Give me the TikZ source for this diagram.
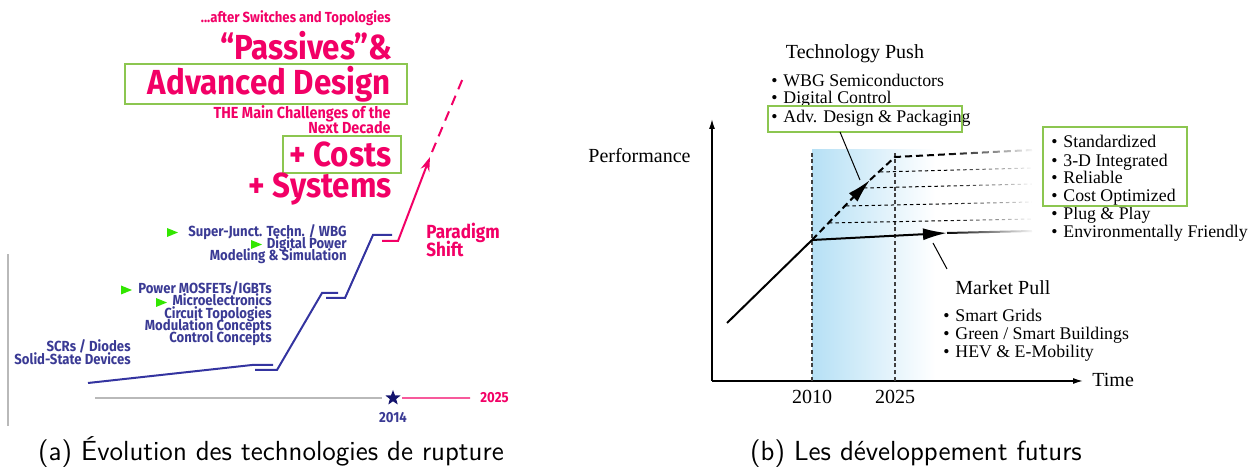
\documentclass[tikz,border=0pt]{standalone}
\usepackage{fontspec}
\usepackage{tikz}
\usetikzlibrary{arrows.meta,shapes.geometric,fadings}
\newfontfamily\leftsans[FakeStretch=0.9]{Fira Sans}
\newfontfamily\plotserif{Liberation Serif}
\definecolor{hotpink}{RGB}{242,0,102}
\definecolor{navytext}{RGB}{58,58,148}
\definecolor{stairblue}{RGB}{52,52,160}
\definecolor{starnavy}{RGB}{20,20,110}
\definecolor{lime}{RGB}{50,230,0}
\definecolor{boxgreen}{RGB}{140,198,80}
\definecolor{skyshade}{RGB}{182,224,245}
\tikzfading[name=fadeout, left color=transparent!100, right color=transparent!0]
\newcommand\bul{\makebox[6pt][l]{\textbullet}}

\begin{document}
\begin{tikzpicture}[x=0.5pt,y=0.5pt,>=Latex,
    bigpink/.style={text=hotpink, font=\leftsans\bfseries\fontsize{17.4}{18}\selectfont, inner sep=0pt, anchor=base east},
    smallpink/.style={text=hotpink, font=\leftsans\bfseries\fontsize{8}{9}\selectfont, inner sep=0pt, anchor=base east},
    tinypink/.style={smallpink, font=\leftsans\bfseries\fontsize{7.3}{8}\selectfont},
    bluetxt/.style={text=navytext, font=\leftsans\bfseries\fontsize{7.3}{8}\selectfont, inner sep=0pt, anchor=base east},
    stair/.style={stairblue, line width=1pt},
    hilite/.style={draw=boxgreen, line width=1.2pt},
    serif/.style={font=\plotserif\fontsize{8.9}{10}\selectfont, inner sep=0pt, anchor=base west},
    bigserif/.style={font=\plotserif\fontsize{10}{12}\selectfont, inner sep=0pt, anchor=base west},
    caption/.style={font=\sffamily\fontsize{13.8}{16}\selectfont, inner sep=0pt, anchor=base}]

    \useasboundingbox (0,0) rectangle (1260,471);

    % (a) headline
    \node[tinypink] (after) at (391,448) {...after Switches and Topologies};
    \node[bigpink] (passives) at (393,411) {“Passives”\&};
    \node[bigpink] (advdesign) at (391,376) {Advanced Design};
    \draw[hilite] (125,367) rectangle (407,407);
    \node[smallpink] (challenge) at (391,352) {THE Main Challenges of the};
    \node[smallpink] (decade) at (391,337) {Next Decade};
    \node[bigpink] (costs) at (392,304) {+ Costs};
    \draw[hilite] (283,298) rectangle (401,335);
    \node[bigpink] (systems) at (392,273) {+ Systems};

    % staircase of breakthroughs
    \draw[stair] (88,88) -- (252,106) -- (273,106);
    \draw[stair] (255,101) -- (277,101) -- (322,178) -- (338,178);
    \draw[stair] (326,173) -- (345,173) -- (373,236) -- (392,236);
    \draw[hotpink, line width=1pt, -{Stealth[length=7pt,width=4.5pt]}] (382,230) -- (398,230) -- (430,314);
    \draw[hotpink, line width=1pt, dash pattern=on 5pt off 3.5pt] (432,319) -- (463,393);

    % labels along the steps
    \foreach \txt/\yy [count=\i] in {{Super-Junct. Techn. / WBG}/234, {Digital Power}/222, {Modeling \& Simulation}/210}
        \node[bluetxt] (top\i) at (347,\yy) {\txt};
    \foreach \txt/\yy [count=\i] in {{Power MOSFETs/IGBTs}/177, {Microelectronics}/165, {Circuit Topologies}/152, {Modulation Concepts}/140, {Control Concepts}/128}
        \node[bluetxt] (mid\i) at (272,\yy) {\txt};
    \foreach \txt/\yy [count=\i] in {{SCRs / Diodes}/119, {Solid-State Devices}/106}
        \node[bluetxt] (low\i) at (131,\yy) {\txt};
    \foreach \x/\y in {167/238.5, 251/226.5, 121/181, 156/168.5}
        \fill[lime] (\x,\y+4.5) -- ++(11,-4.5) -- ++(-11,-4.5) -- cycle;
    \node[smallpink, anchor=base west, font=\leftsans\bfseries\fontsize{9.5}{10}\selectfont] (paradigm) at (426,232) {Paradigm};
    \node[smallpink, anchor=base west, font=\leftsans\bfseries\fontsize{9.5}{10}\selectfont] (shift) at (426,214) {Shift};

    % time axis
    \draw[gray!55, line width=0.6pt] (8,45) -- (8,217);
    \node[star, star points=5, star point ratio=2.4, fill=starnavy, inner sep=0pt, minimum size=8pt] (now) at (393,73) {};
    \node[bluetxt, anchor=base] (y2014) at (393,48) {2014};
    \node[tinypink, anchor=base west] (y2025) at (480,68) {2025};
    \draw[gray!55, line width=0.8pt, shorten >=3pt] (95,73) -- (now);
    \draw[hotpink, line width=0.6pt, shorten <=2pt, shorten >=5pt] (now) -- (y2025);

    % (b) technology push / market pull
    \node[bigserif, anchor=base] (push) at (855,412) {Technology Push};
    \node[serif] (wbg) at (771,384) {\bul WBG Semiconductors};
    \node[serif] (digital) at (771,367) {\bul Digital Control};
    \node[serif] (pkg) at (771,348) {\bul Adv. Design \& Packaging};
    \draw[hilite] (768,339) rectangle (962,365);
    \node[bigserif] (perf) at (588,308) {Performance};

    % axes
    \coordinate (origin) at (712,90);
    \coordinate (ytop) at (712,352);
    \coordinate (xend) at (1083,90);
    \shade[left color=skyshade, right color=white] (812,90) rectangle (935,321);
    \draw[line width=0.7pt, -{Latex[length=5pt,width=3pt]}] (origin) -- (ytop);
    \draw[line width=0.7pt, -{Latex[length=5pt,width=3pt]}] (origin) -- (xend);
    \node[bigserif] (time) at (1092,84) {Time};
    \foreach \x/\yr in {812/2010, 895/2025} {
        \draw[black!75, line width=0.6pt, dash pattern=on 2pt off 1.4pt] (\x,90) -- (\x,321);
        \node[bigserif, anchor=base] (t\yr) at (\x,67) {\yr};
    }

    % growth paths
    \draw[line width=1pt] (727,148) -- (812,231);
    \draw[line width=1pt, -{Latex[length=12pt,width=6pt]}] (812,231) -- (947,238);
    \draw[line width=1pt] (947,238) -- (1032,240);
    \draw[line width=1pt, dash pattern=on 3.5pt off 2pt, -{Latex[length=12pt,width=6pt]}] (812,231) -- (870,291);
    \draw[line width=1pt, dash pattern=on 3.5pt off 2pt] (870,291) -- (895,314) -- (1032,321);
    \foreach \yy in {248,265,283,299}
        \draw[line width=0.5pt, dash pattern=on 1.7pt off 1.5pt] (\yy+581,\yy) -- (1032,\yy+4);
    \fill[white, path fading=fadeout] (945,225) rectangle (1035,327);

    % pointers
    \draw[line width=0.5pt] (840,339) -- (860,291);
    \draw[line width=0.5pt] (933,228) -- (947,202);

    \node[bigserif] (market) at (955,176) {Market Pull};
    \foreach \txt/\yy [count=\i] in {{Smart Grids}/149, {Green / Smart Buildings}/131, {HEV \& E-Mobility}/113}
        \node[serif] (pull\i) at (943,\yy) {\bul \txt};
    \foreach \txt/\yy [count=\i] in {Standardized/323, {3-D Integrated}/304, Reliable/287, {Cost Optimized}/269, {Plug \& Play}/251, {Environmentally Friendly}/233}
        \node[serif] (goal\i) at (1051,\yy) {\bul \txt};
    \draw[hilite] (1043,265) rectangle (1187,344);

    % captions
    \node[caption] (capa) at (271,10) {(a) Évolution des technologies de rupture};
    \node[caption] (capb) at (916,10) {(b) Les développement futurs};
\end{tikzpicture}
\end{document}
